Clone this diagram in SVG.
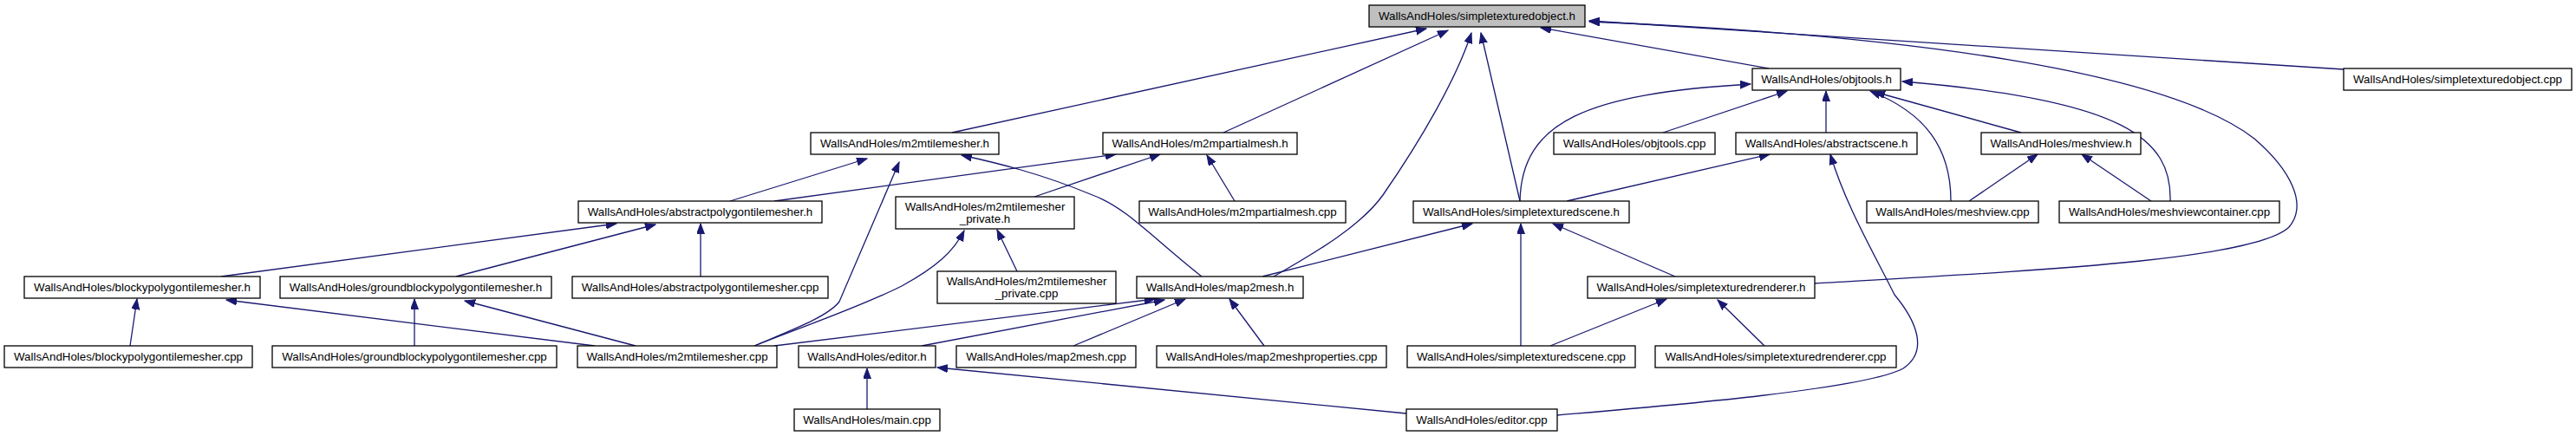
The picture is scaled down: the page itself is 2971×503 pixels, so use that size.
<svg xmlns="http://www.w3.org/2000/svg" width="2971" height="503" viewBox="0 0 2971 503">
<style>
.node rect{fill:#ffffff;stroke:#000000;stroke-width:1.3}
.node.start rect{fill:#bfbfbf}
.node text{font-family:"Liberation Sans",Arial,Helvetica,sans-serif;font-size:13.33px;fill:#000000;text-anchor:middle}
.edge{fill:none;stroke:#191970;stroke-width:1.3;marker-end:url(#arr)}
</style>
<defs>
<marker id="arr" markerUnits="userSpaceOnUse" markerWidth="13" markerHeight="10" refX="12" refY="4.5" orient="auto">
<path d="M0,0 L12,4.5 L0,9 z" fill="#191970" stroke="#191970" stroke-width="1"/>
</marker>
</defs>
<rect width="2971" height="503" fill="#ffffff"/>
<g id="connectors">
<path class="edge" d="M1098,153 L1645,33"/>
<path class="edge" d="M1411,153 L1670,35"/>
<path class="edge" d="M1469,319 C1520,290 1570,260 1595,225 C1640,160 1680,90 1697,38"/>
<path class="edge" d="M1753,232 L1708,38"/>
<path class="edge" d="M2040,79 L1777,32"/>
<path class="edge" d="M2093,327 C2350,312 2600,300 2640,262 C2662,236 2642,196 2600,160 C2500,82 2200,40 1833,25"/>
<path class="edge" d="M2703,80 L1833,24"/>
<path class="edge" d="M1918,153 L2061,105"/>
<path class="edge" d="M2106,153 L2106,105"/>
<path class="edge" d="M2331,153 L2162,106"/>
<path class="edge" d="M2250,232 C2250,170 2220,130 2157,105"/>
<path class="edge" d="M2503,232 C2505,160 2450,115 2194,94"/>
<path class="edge" d="M2271,232 L2350,178"/>
<path class="edge" d="M2481,232 L2401,178"/>
<path class="edge" d="M1753,232 C1755,140 1830,108 2019,97"/>
<path class="edge" d="M1807,232 L2041,178"/>
<path class="edge" d="M1796,479 C1900,470 2150,450 2195,425 C2225,405 2210,370 2185,340 C2160,290 2128,235 2111,178"/>
<path class="edge" d="M1386,319 C1330,275 1300,240 1260,225 C1200,200 1150,188 1109,179"/>
<path class="edge" d="M1456,319 L1698,258"/>
<path class="edge" d="M1173,313 L1150,265"/>
<path class="edge" d="M870,399 C930,375 990,355 1040,330 C1080,308 1100,290 1112,266"/>
<path class="edge" d="M870,399 C915,380 955,365 968,348 L1037,187"/>
<path class="edge" d="M893,399 L1332,345"/>
<path class="edge" d="M1063,399 L1343,346"/>
<path class="edge" d="M1238,399 L1367,345"/>
<path class="edge" d="M1458,399 L1418,345"/>
<path class="edge" d="M1754,399 L1754,258"/>
<path class="edge" d="M1932,319 L1791,258"/>
<path class="edge" d="M1788,399 L1922,345"/>
<path class="edge" d="M2035,399 L1981,346"/>
<path class="edge" d="M1622,477 L1081,424"/>
<path class="edge" d="M1000,472 L1000,425"/>
<path class="edge" d="M1424,232 L1392,179"/>
<path class="edge" d="M1193,227 L1338,178"/>
<path class="edge" d="M893,232 L1287,178"/>
<path class="edge" d="M842,232 L1000,183"/>
<path class="edge" d="M255,319 L711,258"/>
<path class="edge" d="M526,319 L756,259"/>
<path class="edge" d="M808,319 L808,258"/>
<path class="edge" d="M150,399 L158,345"/>
<path class="edge" d="M478,399 L478,345"/>
<path class="edge" d="M686,399 L261,346"/>
<path class="edge" d="M733,399 L536,347"/>
</g>
<g id="n1" class="node start"><rect x="1579" y="6" width="249" height="25"/><text x="1703.5" y="23">WallsAndHoles/simpletexturedobject.h</text></g>
<g id="n2" class="node"><rect x="2021" y="79" width="171" height="25"/><text x="2106.5" y="96">WallsAndHoles/objtools.h</text></g>
<g id="n3" class="node"><rect x="2703" y="79" width="263" height="25"/><text x="2834.5" y="96">WallsAndHoles/simpletexturedobject.cpp</text></g>
<g id="n4" class="node"><rect x="935" y="153" width="217" height="25"/><text x="1043.5" y="170">WallsAndHoles/m2mtilemesher.h</text></g>
<g id="n5" class="node"><rect x="1272" y="153" width="224" height="25"/><text x="1384" y="170">WallsAndHoles/m2mpartialmesh.h</text></g>
<g id="n6" class="node"><rect x="1792" y="153" width="186" height="25"/><text x="1885" y="170">WallsAndHoles/objtools.cpp</text></g>
<g id="n7" class="node"><rect x="2002" y="153" width="209" height="25"/><text x="2106.5" y="170">WallsAndHoles/abstractscene.h</text></g>
<g id="n8" class="node"><rect x="2285" y="153" width="184" height="25"/><text x="2377" y="170">WallsAndHoles/meshview.h</text></g>
<g id="n9" class="node"><rect x="667" y="232" width="281" height="25"/><text x="807.5" y="249">WallsAndHoles/abstractpolygontilemesher.h</text></g>
<g id="n10" class="node"><rect x="1033" y="227" width="206" height="37"/><text x="1136" y="243">WallsAndHoles/m2mtilemesher</text><text x="1136" y="257">_private.h</text></g>
<g id="n11" class="node"><rect x="1314" y="232" width="238" height="25"/><text x="1433" y="249">WallsAndHoles/m2mpartialmesh.cpp</text></g>
<g id="n12" class="node"><rect x="1630" y="232" width="249" height="25"/><text x="1754.5" y="249">WallsAndHoles/simpletexturedscene.h</text></g>
<g id="n13" class="node"><rect x="2153" y="232" width="198" height="25"/><text x="2252" y="249">WallsAndHoles/meshview.cpp</text></g>
<g id="n14" class="node"><rect x="2375" y="232" width="254" height="25"/><text x="2502" y="249">WallsAndHoles/meshviewcontainer.cpp</text></g>
<g id="n15" class="node"><rect x="28" y="319" width="272" height="25"/><text x="164" y="336">WallsAndHoles/blockypolygontilemesher.h</text></g>
<g id="n16" class="node"><rect x="323" y="319" width="313" height="25"/><text x="479.5" y="336">WallsAndHoles/groundblockypolygontilemesher.h</text></g>
<g id="n17" class="node"><rect x="660" y="319" width="295" height="25"/><text x="807.5" y="336">WallsAndHoles/abstractpolygontilemesher.cpp</text></g>
<g id="n18" class="node"><rect x="1081" y="313" width="206" height="37"/><text x="1184" y="329">WallsAndHoles/m2mtilemesher</text><text x="1184" y="343">_private.cpp</text></g>
<g id="n19" class="node"><rect x="1311" y="319" width="192" height="25"/><text x="1407" y="336">WallsAndHoles/map2mesh.h</text></g>
<g id="n20" class="node"><rect x="1831" y="319" width="262" height="25"/><text x="1962" y="336">WallsAndHoles/simpletexturedrenderer.h</text></g>
<g id="n21" class="node"><rect x="5" y="399" width="286" height="25"/><text x="148" y="416">WallsAndHoles/blockypolygontilemesher.cpp</text></g>
<g id="n22" class="node"><rect x="314" y="399" width="328" height="25"/><text x="478" y="416">WallsAndHoles/groundblockypolygontilemesher.cpp</text></g>
<g id="n23" class="node"><rect x="666" y="399" width="230" height="25"/><text x="781" y="416">WallsAndHoles/m2mtilemesher.cpp</text></g>
<g id="n24" class="node"><rect x="921" y="399" width="158" height="25"/><text x="1000" y="416">WallsAndHoles/editor.h</text></g>
<g id="n25" class="node"><rect x="1103" y="399" width="207" height="25"/><text x="1206.5" y="416">WallsAndHoles/map2mesh.cpp</text></g>
<g id="n26" class="node"><rect x="1334" y="399" width="265" height="25"/><text x="1466.5" y="416">WallsAndHoles/map2meshproperties.cpp</text></g>
<g id="n27" class="node"><rect x="1623" y="399" width="263" height="25"/><text x="1754.5" y="416">WallsAndHoles/simpletexturedscene.cpp</text></g>
<g id="n28" class="node"><rect x="1909" y="399" width="278" height="25"/><text x="2048" y="416">WallsAndHoles/simpletexturedrenderer.cpp</text></g>
<g id="n29" class="node"><rect x="916" y="472" width="168" height="25"/><text x="1000" y="489">WallsAndHoles/main.cpp</text></g>
<g id="n30" class="node"><rect x="1622" y="472" width="174" height="25"/><text x="1709" y="489">WallsAndHoles/editor.cpp</text></g>
</svg>
